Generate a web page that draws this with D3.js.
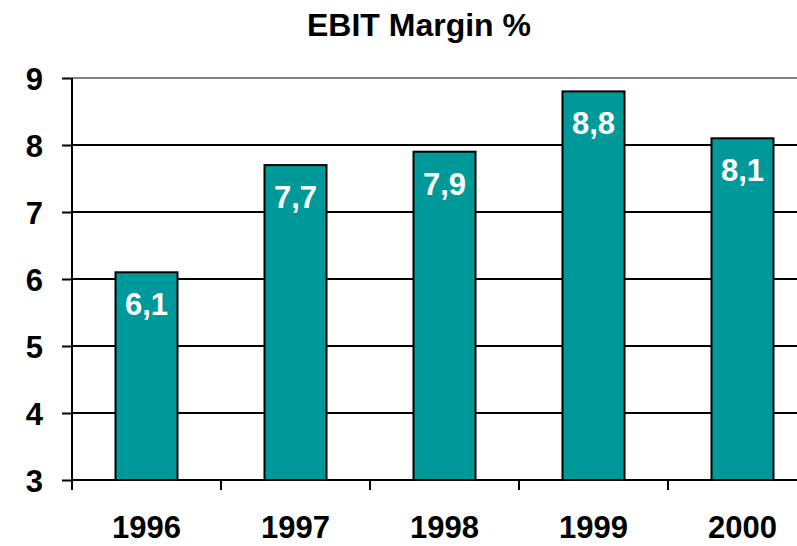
<!DOCTYPE html>
<html>
<head>
<meta charset="utf-8">
<script src="https://cdn.jsdelivr.net/npm/d3@7"></script>
<style>
  body { margin: 0; background: #fff; }
  svg { display: block; font-family: Arial, "Liberation Sans", sans-serif; font-weight: bold; }
</style>
</head>
<body>
<div id="chart"></div>
<script>
// data
const years = ['1996', '1997', '1998', '1999', '2000']
const margins = [6.1, 7.7, 7.9, 8.8, 8.1]
const yTicks = [3, 4, 5, 6, 7, 8, 9]

const W = 797, H = 546
const plotLeft = 72, plotTop = 78, plotBottom = 480
// plot runs off the right edge of the picture
const plotRight = plotLeft + 149 * years.length

const svg = d3.select('#chart').append('svg')
  .attr('width', W)
  .attr('height', H)

const x = d3.scaleBand()
  .domain(years)
  .range([plotLeft, plotRight])
  .paddingInner(87 / 149)
  .paddingOuter(87 / 149 / 2)

const y = d3.scaleLinear()
  .domain([3, 9])
  .range([plotBottom, plotTop])

// horizontal gridlines
svg.append('g').selectAll('line')
  .data(yTicks.slice(1))
  .enter().append('line')
  .attr('x1', plotLeft)
  .attr('x2', W)
  .attr('y1', d => y(d))
  .attr('y2', d => y(d))
  .attr('stroke', d => d === 9 ? '#808080' : '#000')
  .attr('stroke-width', 2)

// bars
svg.append('g').selectAll('rect')
  .data(margins)
  .enter().append('rect')
  .attr('x', (d, i) => x(years[i]))
  .attr('y', d => y(d))
  .attr('width', x.bandwidth())
  .attr('height', d => y(3) - y(d))
  .attr('fill', '#009999')
  .attr('stroke', '#000')
  .attr('stroke-width', 2)

// value labels inside bars
svg.append('g').selectAll('text')
  .data(margins)
  .enter().append('text')
  .attr('x', (d, i) => x(years[i]) + x.bandwidth() / 2)
  .attr('y', d => y(d) + 43)
  .attr('text-anchor', 'middle')
  .attr('fill', '#fff')
  .attr('font-size', '31px')
  .text(d => d.toFixed(1).replace('.', ','))

// y axis
const yAxis = svg.append('g')
  .attr('transform', `translate(${plotLeft},0)`)
  .call(d3.axisLeft(y).tickValues(yTicks).tickSize(10).tickPadding(19).tickFormat(d3.format('d')))
yAxis.select('.domain').attr('stroke', '#000').attr('stroke-width', 2).attr('d', `M0,${plotTop}V${plotBottom}`)
yAxis.selectAll('.tick line').attr('stroke', '#000').attr('stroke-width', 2)
yAxis.selectAll('.tick text')
  .attr('font-size', '31px')
  .attr('font-family', 'Arial, "Liberation Sans", sans-serif')
  .attr('font-weight', 'bold')
  .attr('fill', '#000')
  .attr('dy', '0.36em')

// x axis: tick marks between categories, labels centred under bars
const xb = svg.append('g').attr('transform', `translate(0,${plotBottom})`)
xb.append('line')
  .attr('x1', plotLeft).attr('x2', W)
  .attr('y1', 0).attr('y2', 0)
  .attr('stroke', '#000').attr('stroke-width', 2)
xb.selectAll('.sep')
  .data(d3.range(years.length + 1))
  .enter().append('line')
  .attr('class', 'sep')
  .attr('x1', i => plotLeft + 149 * i)
  .attr('x2', i => plotLeft + 149 * i)
  .attr('y1', 0).attr('y2', 10)
  .attr('stroke', '#000').attr('stroke-width', 2)
xb.selectAll('text')
  .data(years)
  .enter().append('text')
  .attr('x', d => x(d) + x.bandwidth() / 2)
  .attr('y', 58)
  .attr('text-anchor', 'middle')
  .attr('font-size', '31px')
  .text(d => d)

// title
svg.append('text')
  .attr('x', 419)
  .attr('y', 36)
  .attr('text-anchor', 'middle')
  .attr('font-size', '32px')
  .text('EBIT Margin %')
</script>
</body>
</html>
